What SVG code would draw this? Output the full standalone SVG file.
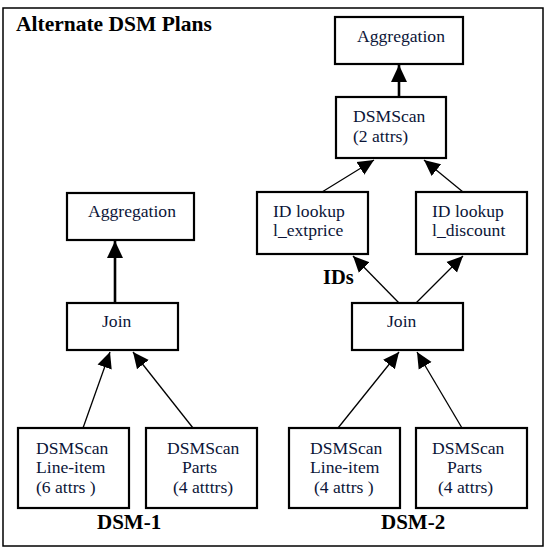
<svg xmlns="http://www.w3.org/2000/svg" width="549" height="548" viewBox="0 0 549 548">
<style>
.box{fill:#fff;stroke:#000;stroke-width:2.2}
.t{font-family:'Liberation Serif',Tinos,'Times New Roman',Times,'DejaVu Serif',serif;font-size:17.6px;fill:#0b1538}
.b{font-family:'Liberation Serif',Tinos,'Times New Roman',Times,'DejaVu Serif',serif;font-weight:bold;fill:#000}
.thick{stroke:#000;stroke-width:2.6;fill:none}
.thin{stroke:#000;stroke-width:1.3;fill:none}
</style>
<defs>
<marker id="ah" markerUnits="userSpaceOnUse" markerWidth="18" markerHeight="18" viewBox="0 0 18 18" refX="17" refY="9" orient="auto">
<path d="M0,1 L17,9 L0,17 z" fill="#000"/>
</marker>
<marker id="ahs" markerUnits="userSpaceOnUse" markerWidth="18" markerHeight="18" viewBox="0 0 18 18" refX="16" refY="8" orient="auto">
<path d="M0,0.5 L16,8 L0,15.5 z" fill="#000"/>
</marker>
</defs>
<rect x="3" y="8" width="540" height="538" fill="#fff" stroke="#000" stroke-width="1.5"/>
<text class="b" x="16" y="31" font-size="21.5">Alternate DSM Plans</text>

<g id="connectors">
<line class="thick" x1="115" y1="303" x2="115" y2="241" marker-end="url(#ah)"/>
<line class="thin" x1="83" y1="428" x2="110" y2="352" marker-end="url(#ahs)"/>
<line class="thin" x1="193" y1="428" x2="133" y2="352" marker-end="url(#ahs)"/>
<line class="thick" x1="399" y1="97" x2="399" y2="65" marker-end="url(#ah)"/>
<line class="thin" x1="322" y1="192" x2="374" y2="160" marker-end="url(#ahs)"/>
<line class="thin" x1="463" y1="192" x2="424" y2="160" marker-end="url(#ahs)"/>
<line class="thin" x1="399" y1="303" x2="353" y2="256" marker-end="url(#ahs)"/>
<line class="thin" x1="416" y1="303" x2="463" y2="256" marker-end="url(#ahs)"/>
<line class="thin" x1="338" y1="428" x2="399" y2="352" marker-end="url(#ahs)"/>
<line class="thin" x1="462" y1="428" x2="417" y2="352" marker-end="url(#ahs)"/>
</g>

<g id="agg1">
<rect class="box" x="67" y="193" width="127" height="47"/>
<text class="t" x="88" y="217">Aggregation</text>
</g>
<g id="join1">
<rect class="box" x="67" y="303" width="111" height="47"/>
<text class="t" x="102" y="327">Join</text>
</g>
<g id="scan1a">
<rect class="box" x="18" y="428" width="111" height="80"/>
<text class="t" x="36" y="454">DSMScan</text>
<text class="t" x="36" y="473">Line-item</text>
<text class="t" x="36" y="493">(6 attrs )</text>
</g>
<g id="scan1b">
<rect class="box" x="146" y="428" width="111" height="80"/>
<text class="t" x="167" y="454">DSMScan</text>
<text class="t" x="182" y="473">Parts</text>
<text class="t" x="173" y="493">(4 atttrs)</text>
</g>
<text class="b" x="97" y="529" font-size="21">DSM-1</text>

<g id="agg2">
<rect class="box" x="335" y="17" width="128" height="47"/>
<text class="t" x="357" y="42">Aggregation</text>
</g>
<g id="scan2top">
<rect class="box" x="336" y="97" width="110" height="61"/>
<text class="t" x="353" y="122">DSMScan</text>
<text class="t" x="353" y="142">(2 attrs)</text>
</g>
<g id="lookup1">
<rect class="box" x="257" y="192" width="111" height="62"/>
<text class="t" x="273" y="217">ID lookup</text>
<text class="t" x="273" y="236">l_extprice</text>
</g>
<g id="lookup2">
<rect class="box" x="416" y="192" width="111" height="62"/>
<text class="t" x="432" y="217">ID lookup</text>
<text class="t" x="432" y="236">l_discount</text>
</g>
<text class="b" x="323" y="284" font-size="20.5">IDs</text>
<g id="join2">
<rect class="box" x="352" y="303" width="111" height="47"/>
<text class="t" x="387" y="327">Join</text>
</g>
<g id="scan2a">
<rect class="box" x="289" y="428" width="111" height="80"/>
<text class="t" x="310" y="454">DSMScan</text>
<text class="t" x="310" y="473">Line-item</text>
<text class="t" x="314" y="493">(4 attrs )</text>
</g>
<g id="scan2b">
<rect class="box" x="416" y="428" width="111" height="80"/>
<text class="t" x="432" y="454">DSMScan</text>
<text class="t" x="447" y="473">Parts</text>
<text class="t" x="438" y="493">(4 attrs)</text>
</g>
<text class="b" x="381" y="529" font-size="21">DSM-2</text>
</svg>
